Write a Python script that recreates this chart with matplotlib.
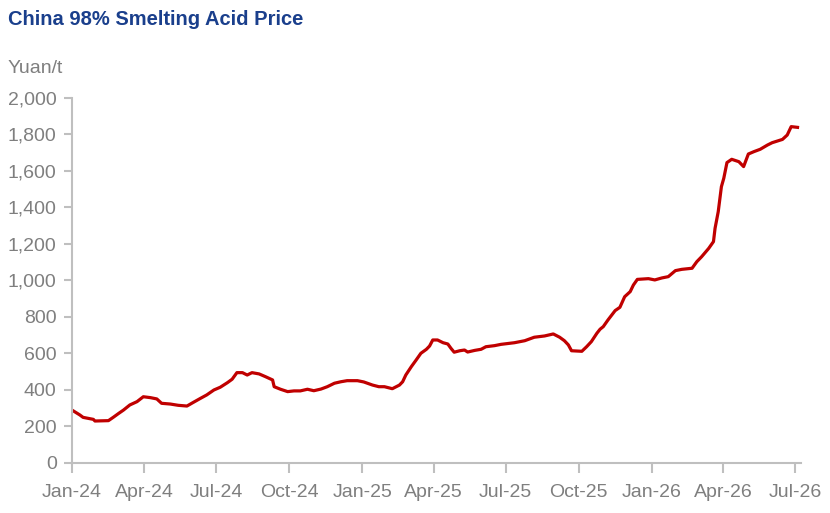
import pandas as pd
import matplotlib
matplotlib.use("Agg")
import matplotlib.pyplot as plt
import matplotlib.dates as mdates
from matplotlib.ticker import FuncFormatter

# China 98% smelting acid price, Yuan/t
dates = [
    "2024-01-01", "2024-01-11", "2024-01-15", "2024-01-28", "2024-01-30", "2024-02-16",
    "2024-02-22", "2024-02-29", "2024-03-06", "2024-03-14", "2024-03-23", "2024-03-31",
    "2024-04-09", "2024-04-17", "2024-04-23", "2024-05-04", "2024-05-14", "2024-05-25",
    "2024-06-02", "2024-06-11", "2024-06-19", "2024-06-28", "2024-07-06", "2024-07-15",
    "2024-07-21", "2024-07-27", "2024-08-03", "2024-08-09", "2024-08-15", "2024-08-24",
    "2024-09-01", "2024-09-10", "2024-09-12", "2024-09-20", "2024-09-29", "2024-10-07",
    "2024-10-15", "2024-10-24", "2024-11-01", "2024-11-10", "2024-11-18", "2024-11-27",
    "2024-12-05", "2024-12-13", "2024-12-26", "2025-01-03", "2025-01-14", "2025-01-22",
    "2025-01-29", "2025-02-08", "2025-02-17", "2025-02-21", "2025-02-25", "2025-03-04",
    "2025-03-10", "2025-03-16", "2025-03-23", "2025-03-27", "2025-03-31", "2025-04-06",
    "2025-04-13", "2025-04-19", "2025-04-23", "2025-04-27", "2025-05-04", "2025-05-10",
    "2025-05-14", "2025-05-23", "2025-05-31", "2025-06-06", "2025-06-17", "2025-06-25",
    "2025-07-12", "2025-07-25", "2025-08-06", "2025-08-19", "2025-08-30", "2025-09-07",
    "2025-09-13", "2025-09-18", "2025-09-22", "2025-10-05", "2025-10-11", "2025-10-17",
    "2025-10-24", "2025-10-28", "2025-11-01", "2025-11-07", "2025-11-16", "2025-11-22",
    "2025-11-28", "2025-12-05", "2025-12-09", "2025-12-14", "2025-12-28", "2026-01-05",
    "2026-01-14", "2026-01-22", "2026-01-31", "2026-02-08", "2026-02-21", "2026-02-27",
    "2026-03-05", "2026-03-14", "2026-03-20", "2026-03-22", "2026-03-26", "2026-03-30",
    "2026-04-02", "2026-04-06", "2026-04-12", "2026-04-21", "2026-04-27", "2026-05-03",
    "2026-05-10", "2026-05-18", "2026-05-27", "2026-06-02", "2026-06-15", "2026-06-21",
    "2026-06-26", "2026-07-04",
]
price = [
    290, 263, 250, 239, 230, 232,
    250, 272, 290, 318, 336, 363,
    358, 351, 327, 323, 316, 312,
    332, 354, 373, 400, 415, 440,
    459, 495, 495, 482, 495, 488,
    473, 455, 418, 404, 391, 395,
    395, 404, 396, 405, 418, 437,
    445, 451, 451, 444, 427, 418,
    418, 407, 427, 445, 482, 528,
    564, 601, 623, 641, 674, 674,
    659, 652, 628, 607, 615, 619,
    608, 617, 623, 637, 643, 650,
    659, 670, 689, 696, 707, 689,
    670, 647, 615, 612, 637, 665,
    711, 733, 747, 784, 835, 853,
    911, 939, 975, 1006, 1010, 1003,
    1014, 1021, 1054, 1061, 1067, 1103,
    1130, 1176, 1213, 1286, 1377, 1514,
    1560, 1646, 1664, 1651, 1624, 1693,
    1706, 1719, 1742, 1755, 1773, 1797,
    1843, 1839,
]

title = "China 98% Smelting Acid Price"
unit = "Yuan/t"
x_ticks = pd.date_range("2024-01-01", "2026-07-01", freq="3MS")

plt.rcParams['font.family'] = ['Liberation Sans', 'DejaVu Sans']
grey = "#7f7f7f"
axis_grey = "#bfbfbf"

fig = plt.figure(figsize=(8.3, 5.13), dpi=100)
ax = fig.add_axes([0.0867, 0.0975, 0.878, 0.7115])

ax.plot(pd.to_datetime(dates), price, color="#c00000", lw=2.3, solid_joinstyle="round")

ax.set_ylim(0, 2000)
ax.set_yticks(range(0, 2001, 200))
ax.yaxis.set_major_formatter(FuncFormatter(lambda v, p: f"{int(v):,}"))
ax.set_xlim(pd.Timestamp("2024-01-01"), pd.Timestamp("2026-07-08"))
ax.set_xticks(x_ticks)
ax.xaxis.set_major_formatter(mdates.DateFormatter("%b-%y"))

for s in ["top", "right"]:
    ax.spines[s].set_visible(False)
for s in ["left", "bottom"]:
    ax.spines[s].set_color(axis_grey)
    ax.spines[s].set_linewidth(1.5)
ax.tick_params(axis="both", colors=axis_grey, labelcolor=grey, labelsize=14, width=1.5)
ax.tick_params(axis="y", length=6, pad=5)
ax.tick_params(axis="x", length=7, pad=8)

fig.text(0.0096, 0.951, title, color="#1a3f8c", fontsize=14.5, fontweight="bold")
fig.text(0.0096, 0.858, unit, color=grey, fontsize=14)

fig.savefig("out.png", dpi=100)
plt.close()
